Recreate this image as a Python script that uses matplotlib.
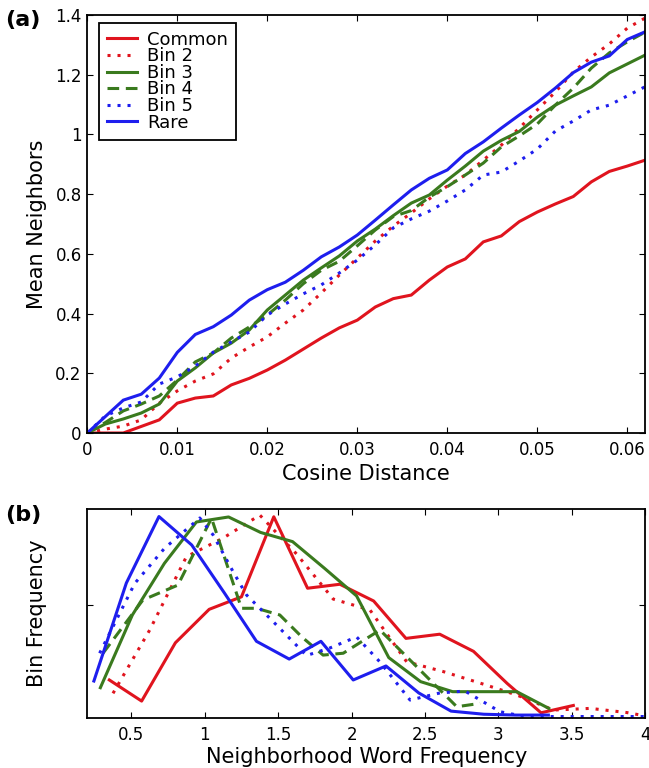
import matplotlib
matplotlib.use("Agg")
import matplotlib.pyplot as plt
from matplotlib.ticker import FuncFormatter

# ---- panel (a): mean neighbours vs cosine distance ----
cos_dist = [0.000, 0.002, 0.004, 0.006, 0.008, 0.010, 0.012, 0.014, 0.016, 0.018,
            0.020, 0.022, 0.024, 0.026, 0.028, 0.030, 0.032, 0.034, 0.036, 0.038,
            0.040, 0.042, 0.044, 0.046, 0.048, 0.050, 0.052, 0.054, 0.056, 0.058,
            0.060, 0.062]
nb_common = [0, 0, 0, 0.022, 0.044, 0.100, 0.117, 0.124, 0.161, 0.183,
             0.211, 0.244, 0.281, 0.318, 0.352, 0.378, 0.422, 0.450, 0.462, 0.512,
             0.556, 0.583, 0.640, 0.660, 0.708, 0.740, 0.767, 0.792, 0.841, 0.876,
             0.894, 0.914]
nb_bin2 = [0, 0.013, 0.023, 0.044, 0.100, 0.141, 0.174, 0.198, 0.251, 0.288,
           0.322, 0.368, 0.412, 0.469, 0.529, 0.586, 0.643, 0.693, 0.737, 0.784,
           0.827, 0.864, 0.914, 0.964, 1.021, 1.082, 1.142, 1.209, 1.259, 1.303,
           1.356, 1.390]
nb_bin3 = [0, 0.030, 0.047, 0.067, 0.097, 0.174, 0.218, 0.268, 0.301, 0.345,
           0.412, 0.462, 0.512, 0.553, 0.593, 0.643, 0.683, 0.728, 0.770, 0.797,
           0.847, 0.894, 0.944, 0.980, 1.010, 1.058, 1.098, 1.129, 1.159, 1.206,
           1.236, 1.266]
nb_bin4 = [0, 0.035, 0.074, 0.097, 0.124, 0.177, 0.238, 0.268, 0.318, 0.355,
           0.395, 0.445, 0.500, 0.545, 0.575, 0.627, 0.680, 0.725, 0.745, 0.790,
           0.825, 0.864, 0.904, 0.958, 0.995, 1.035, 1.098, 1.155, 1.222, 1.273,
           1.310, 1.343]
nb_bin5 = [0, 0.057, 0.084, 0.104, 0.164, 0.188, 0.224, 0.271, 0.305, 0.338,
           0.395, 0.432, 0.466, 0.496, 0.536, 0.579, 0.630, 0.687, 0.717, 0.743,
           0.777, 0.814, 0.864, 0.874, 0.911, 0.951, 1.011, 1.045, 1.082, 1.098,
           1.129, 1.160]
nb_rare = [0, 0.055, 0.110, 0.130, 0.184, 0.270, 0.330, 0.356, 0.395, 0.445,
           0.480, 0.505, 0.545, 0.590, 0.623, 0.663, 0.713, 0.764, 0.814, 0.853,
           0.881, 0.936, 0.975, 1.021, 1.065, 1.107, 1.155, 1.207, 1.242, 1.263,
           1.318, 1.344]

# ---- panel (b): bin frequency vs neighbourhood word frequency ----
fq_common_x = [0.35, 0.57, 0.80, 1.03, 1.25, 1.47, 1.70, 1.92, 2.15, 2.37, 2.60, 2.83, 3.06, 3.29, 3.51]
fq_common_y = [0.182, 0.081, 0.360, 0.520, 0.580, 0.963, 0.621, 0.640, 0.560, 0.381, 0.401, 0.319, 0.165, 0.025, 0.060]
fq_bin2_x = [0.375, 0.625, 0.875, 1.125, 1.375, 1.625, 1.875, 2.125, 2.375, 2.625, 2.875, 3.125, 3.375, 3.625, 3.875, 4.0]
fq_bin2_y = [0.118, 0.421, 0.772, 0.861, 0.971, 0.785, 0.569, 0.517, 0.269, 0.222, 0.167, 0.110, 0.038, 0.046, 0.026, 0.010]
fq_bin3_x = [0.289, 0.507, 0.725, 0.943, 1.162, 1.380, 1.598, 1.816, 2.034, 2.253, 2.470, 2.688, 2.906, 3.125, 3.343]
fq_bin3_y = [0.145, 0.493, 0.740, 0.938, 0.962, 0.888, 0.844, 0.716, 0.584, 0.289, 0.174, 0.126, 0.126, 0.126, 0.046]
fq_bin4_x = [0.307, 0.579, 0.817, 1.046, 1.250, 1.352, 1.511, 1.661, 1.806, 1.943, 2.193, 2.716, 2.875]
fq_bin4_y = [0.310, 0.565, 0.636, 0.956, 0.525, 0.525, 0.493, 0.388, 0.301, 0.310, 0.421, 0.054, 0.070]
fq_bin5_x = [0.284, 0.523, 0.727, 0.966, 1.057, 1.193, 1.284, 1.466, 1.693, 1.852, 2.034, 2.193, 2.398, 2.602, 2.772, 3.011, 3.181, 4.0]
fq_bin5_y = [0.310, 0.644, 0.813, 0.957, 0.876, 0.700, 0.589, 0.461, 0.299, 0.335, 0.388, 0.268, 0.086, 0.120, 0.129, 0.030, 0.007, 0.007]
fq_rare_x = [0.245, 0.466, 0.688, 0.911, 1.134, 1.352, 1.575, 1.791, 2.011, 2.234, 2.457, 2.677, 2.900, 3.120, 3.340]
fq_rare_y = [0.177, 0.646, 0.964, 0.828, 0.598, 0.367, 0.282, 0.367, 0.182, 0.249, 0.120, 0.033, 0.018, 0.014, 0.014]

labels = ["Common", "Bin 2", "Bin 3", "Bin 4", "Bin 5", "Rare"]

RED = "#e0141e"
GREEN = "#3a7a1e"
BLUE = "#1e1eee"
DOT = (0, (2.2, 5.0))
DASH = (0, (8.4, 4.8))
styles = [(RED, "-"), (RED, DOT), (GREEN, "-"), (GREEN, DASH), (BLUE, DOT), (BLUE, "-")]

plt.rcParams.update({
    "font.family": "DejaVu Sans",
    "lines.scale_dashes": False,
    "xtick.direction": "in", "ytick.direction": "in",
    "xtick.top": True, "ytick.right": True,
    "xtick.major.size": 4.5, "ytick.major.size": 4.5,
    "xtick.major.pad": 6, "ytick.major.pad": 4,
    "xtick.labelsize": 12, "ytick.labelsize": 12,
    "axes.linewidth": 1.3,
})

fmt = FuncFormatter(lambda v, p: "%g" % v)

fig = plt.figure(figsize=(6.49, 7.68), dpi=100)
ax1 = fig.add_axes([0.1345, 0.4362, 0.8598, 0.5443])
ax2 = fig.add_axes([0.1345, 0.0651, 0.8598, 0.2721])

series_a = [nb_common, nb_bin2, nb_bin3, nb_bin4, nb_bin5, nb_rare]
for ys, (c, ls), lab in zip(series_a, styles, labels):
    ax1.plot(cos_dist, ys, color=c, linestyle=ls, lw=2.2, label=lab,
             dash_capstyle="butt", solid_joinstyle="miter")
ax1.set_xlim(0, 0.062)
ax1.set_ylim(0, 1.4)
ax1.set_xticks([0, 0.01, 0.02, 0.03, 0.04, 0.05, 0.06])
ax1.set_yticks([0, 0.2, 0.4, 0.6, 0.8, 1.0, 1.2, 1.4])
ax1.xaxis.set_major_formatter(fmt)
ax1.yaxis.set_major_formatter(fmt)
ax1.set_xlabel("Cosine Distance", fontsize=15)
ax1.set_ylabel("Mean Neighbors", fontsize=15)
ax1.xaxis.set_label_coords(0.5, -0.075)
ax1.yaxis.set_label_coords(-0.072, 0.5)
leg = ax1.legend(loc="upper left", bbox_to_anchor=(0.021, 0.9816), borderaxespad=0,
                 fontsize=13, handlelength=1.65, handletextpad=0.55, labelspacing=-0.08,
                 borderpad=0.45, fancybox=False, framealpha=1)
leg.get_frame().set_edgecolor("black")
leg.get_frame().set_linewidth(1.3)

series_b = [(fq_common_x, fq_common_y), (fq_bin2_x, fq_bin2_y), (fq_bin3_x, fq_bin3_y),
            (fq_bin4_x, fq_bin4_y), (fq_bin5_x, fq_bin5_y), (fq_rare_x, fq_rare_y)]
for (xs, ys), (c, ls) in zip(series_b, styles):
    ax2.plot(xs, ys, color=c, linestyle=ls, lw=2.2, dash_capstyle="butt")
ax2.set_xlim(0.2, 4.0)
ax2.set_ylim(0, 1.0)
ax2.set_xticks([0.5, 1, 1.5, 2, 2.5, 3, 3.5, 4])
ax2.xaxis.set_major_formatter(fmt)
ax2.set_yticks([0.54])
ax2.set_yticklabels([])
ax2.set_xlabel("Neighborhood Word Frequency", fontsize=15)
ax2.set_ylabel("Bin Frequency", fontsize=15)
ax2.xaxis.set_label_coords(0.5, -0.14)
ax2.yaxis.set_label_coords(-0.072, 0.5)

fig.text(0.008, 0.974, "(a)", fontsize=16, fontweight="bold", va="center", ha="left")
fig.text(0.008, 0.329, "(b)", fontsize=16, fontweight="bold", va="center", ha="left")

fig.savefig("out.png", dpi=100, facecolor="white")
